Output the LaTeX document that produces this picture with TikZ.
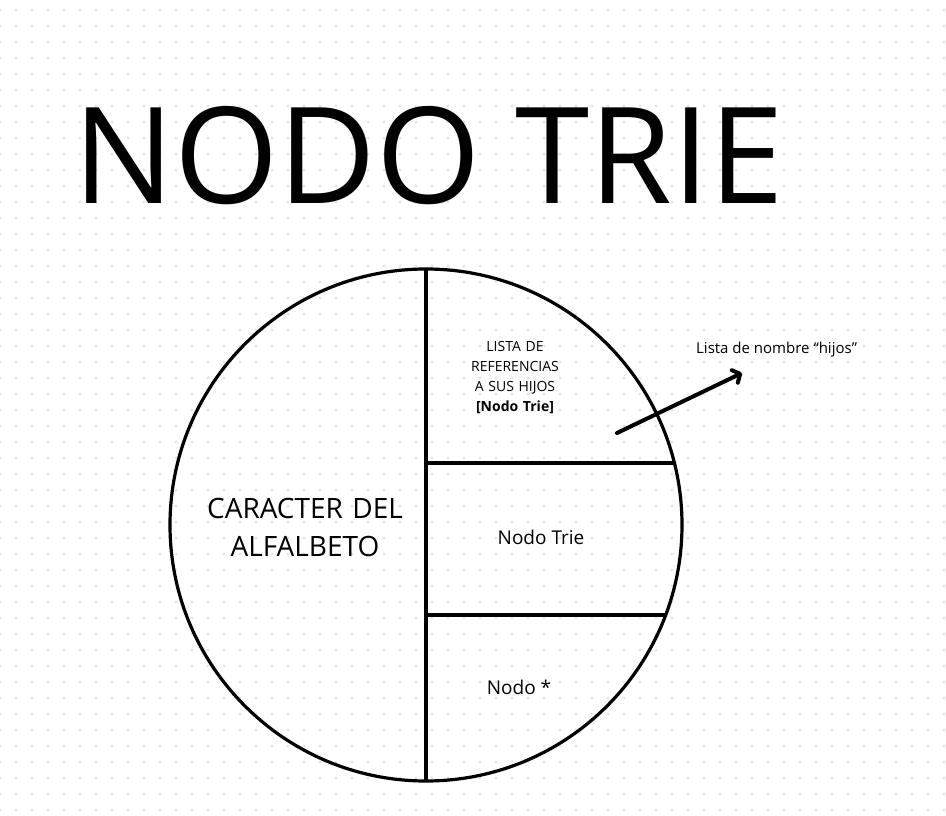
\documentclass[tikz,border=0pt]{standalone}
\usepackage{fontspec}
\setmainfont{Open Sans}
\usetikzlibrary{positioning,arrows.meta,calc}

\begin{document}
\begin{tikzpicture}[x=1pt, y=-1pt,
    griddot/.style={fill=gray!20, draw=none},
    trieshape/.style={draw=black, circle, line width=3.2pt, minimum size=512pt, inner sep=0pt, outer sep=0pt},
    divider/.style={draw=black, line width=3.2pt},
    celltext/.style={font=\fontsize{#1}{#1}\selectfont, align=center, inner sep=0pt},
    celltext/.default={19},
    arr/.style={-{Straight Barb[length=6pt, width=14pt, round]}, line width=4pt, line cap=round},
]
\useasboundingbox (0,0) rectangle (946,816);
\fill[white] (0,0) rectangle (946,816);

% ===== DOT GRID =====
\foreach \col in {0,...,59}
  \foreach \row in {0,...,50}
    \fill[griddot] (\col*16, 10+\row*16) circle (1.6pt);

% ===== TITLE =====
\node[font=\fontsize{134}{134}\selectfont, inner sep=0pt, anchor=base] (title) at (429,203) {NODO TRIE};

% ===== TRIE NODE =====
\node[trieshape] (trie) at (426,525) {};
\coordinate (cutup) at ($(trie.center)+(14:256pt)$);
\coordinate (cutdown) at ($(trie.center)+(-20.6:256pt)$);
\draw[divider] (trie.north) -- (trie.south);
\draw[divider] (trie.north |- cutup) -- (cutup);
\draw[divider] (trie.north |- cutdown) -- (cutdown);

\node[celltext, font=\fontsize{28}{38}\selectfont, text width=220pt] (caracter) at (305,527) {CARACTER DEL\\ALFALBETO};
\node[celltext, font=\fontsize{14}{20}\selectfont, text width=150pt] (hijos) at (515,378)
    {LISTA DE\\REFERENCIAS\\A SUS HIJOS\\\textbf{[Nodo Trie]}};
\node[celltext] (nodotrie) at (541,537) {Nodo Trie};
\node[celltext] (nodoptr) at (519,687) {Nodo *};

% ===== LABEL + ARROW =====
\node[celltext=15, anchor=west] (nombre) at (696,350) {Lista de nombre “hijos”};
\coordinate (arrtail) at (617,433);
\coordinate (arrhead) at (742,373);
\draw[arr] (arrtail) -- (arrhead);

\end{tikzpicture}
\end{document}
